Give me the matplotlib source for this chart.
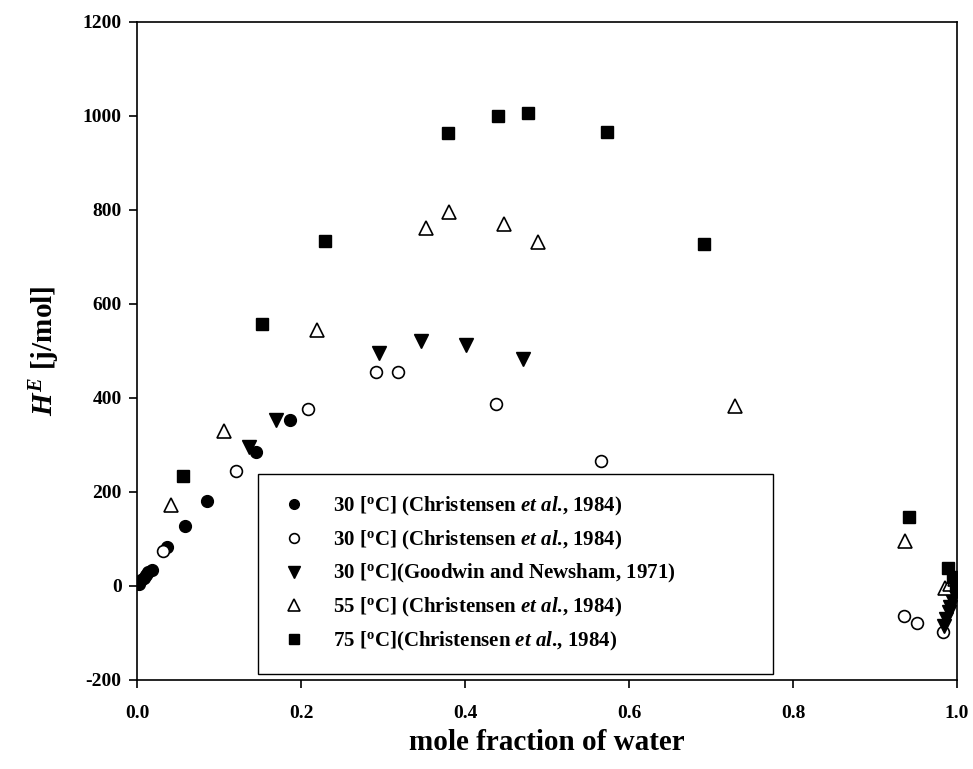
import matplotlib
matplotlib.use("Agg")
import matplotlib.pyplot as plt
from matplotlib.lines import Line2D

plt.rcParams['font.family'] = ['Liberation Serif', 'DejaVu Serif']
plt.rcParams['font.weight'] = 'bold'
plt.rcParams['mathtext.fontset'] = 'custom'
plt.rcParams['mathtext.rm'] = 'Liberation Serif:bold'
plt.rcParams['mathtext.it'] = 'Liberation Serif:italic:bold'
plt.rcParams['mathtext.bf'] = 'Liberation Serif:bold'

# 30 C Christensen (filled circles)
x_c30a = [0.002, 0.005, 0.008, 0.011, 0.014, 0.018, 0.037, 0.059, 0.085, 0.145, 0.187]
y_c30a = [5, 12, 18, 24, 30, 35, 84, 128, 181, 286, 353]
# 30 C Christensen (open circles)
x_c30b = [0.032, 0.121, 0.208, 0.292, 0.318, 0.438, 0.566, 0.935, 0.951, 0.983]
y_c30b = [75, 245, 376, 455, 455, 388, 265, -63, -78, -98]
# 30 C Goodwin and Newsham (filled down triangles)
x_g30 = [0.136, 0.170, 0.295, 0.346, 0.401, 0.471, 0.984, 0.987, 0.990, 0.992, 0.994, 0.996, 0.998]
y_g30 = [295, 353, 495, 522, 513, 484, -85, -70, -55, -45, -30, -15, 0]
# 55 C Christensen (open up triangles)
x_c55 = [0.0415, 0.106, 0.220, 0.352, 0.381, 0.447, 0.489, 0.729, 0.937, 0.985, 0.992, 0.997]
y_c55 = [172, 330, 545, 762, 796, 770, 731, 384, 96, -5, 5, 15]
# 75 C Christensen (filled squares)
x_c75 = [0.0565, 0.152, 0.229, 0.379, 0.440, 0.477, 0.573, 0.691, 0.942, 0.989, 0.995, 0.999]
y_c75 = [234, 557, 733, 963, 1001, 1006, 965, 728, 147, 38, 20, 5]

labels = [r'30 [$^{\mathrm{o}}$C] (Christensen $et\ al$., 1984)',
          r'30 [$^{\mathrm{o}}$C] (Christensen $et\ al$., 1984)',
          r'30 [$^{\mathrm{o}}$C](Goodwin and Newsham, 1971)',
          r'55 [$^{\mathrm{o}}$C] (Christensen $et\ al$., 1984)',
          r'75 [$^{\mathrm{o}}$C](Christensen $et\ al$., 1984)']

xticks = [0.0, 0.2, 0.4, 0.6, 0.8, 1.0]
yticks = [-200, 0, 200, 400, 600, 800, 1000, 1200]

fig = plt.figure(figsize=(9.73, 7.69), dpi=100)
ax = fig.add_axes([137/973, 1-680/769, 820/973, 658/769])

ax.plot(x_c30a, y_c30a, 'o', ms=8.5, mfc='black', mec='black', ls='none', zorder=3)
ax.plot(x_c30b, y_c30b, 'o', ms=8.5, mfc='white', mec='black', mew=1.2, ls='none', zorder=3)
ax.plot(x_g30, y_g30, 'v', ms=10, mfc='black', mec='black', ls='none', zorder=3)
ax.plot(x_c55, y_c55, '^', ms=10, mfc='white', mec='black', mew=1.2, ls='none', zorder=3)
ax.plot(x_c75, y_c75, 's', ms=9, mfc='black', mec='black', ls='none', zorder=3)

ax.set_xlim(0, 1.0)
ax.set_ylim(-200, 1200)
ax.set_xticks(xticks)
ax.set_xticklabels(['%.1f' % v for v in xticks])
ax.set_yticks(yticks)
ax.set_yticklabels([str(v) for v in yticks])
ax.tick_params(axis='both', which='major', direction='out', length=6, width=1.2,
               labelsize=14, top=False, right=False)
ax.tick_params(axis='x', pad=12)
ax.tick_params(axis='y', pad=5)
for lab in ax.get_xticklabels() + ax.get_yticklabels():
    lab.set_fontweight('bold')
for s in ax.spines.values():
    s.set_linewidth(1.2)

ax.set_xlabel('mole fraction of water', fontsize=21, fontweight='bold', labelpad=5)
ax.set_ylabel(r'$H^{E}$ [j/mol]', fontsize=21, fontweight='bold', labelpad=15)

handles = [
    Line2D([], [], marker='o', ls='none', ms=7, mfc='black', mec='black'),
    Line2D([], [], marker='o', ls='none', ms=7, mfc='white', mec='black', mew=1.2),
    Line2D([], [], marker='v', ls='none', ms=8, mfc='black', mec='black'),
    Line2D([], [], marker='^', ls='none', ms=8, mfc='white', mec='black', mew=1.2),
    Line2D([], [], marker='s', ls='none', ms=7, mfc='black', mec='black'),
]
x0 = (258-137)/820
x1 = (773-137)/820
y0 = (680-674)/658
y1 = (680-476)/658
leg = ax.legend(handles, labels, loc='lower left',
                bbox_to_anchor=(x0, y0, x1-x0, y1-y0), mode='expand',
                fancybox=False, framealpha=1, edgecolor='black',
                prop={'family': 'Liberation Serif', 'weight': 'bold', 'size': 15},
                handletextpad=1.1, labelspacing=0.52, borderpad=1.0,
                handlelength=1.5, borderaxespad=0)
leg.get_frame().set_linewidth(1.0)

fig.savefig('out.png', dpi=100)
